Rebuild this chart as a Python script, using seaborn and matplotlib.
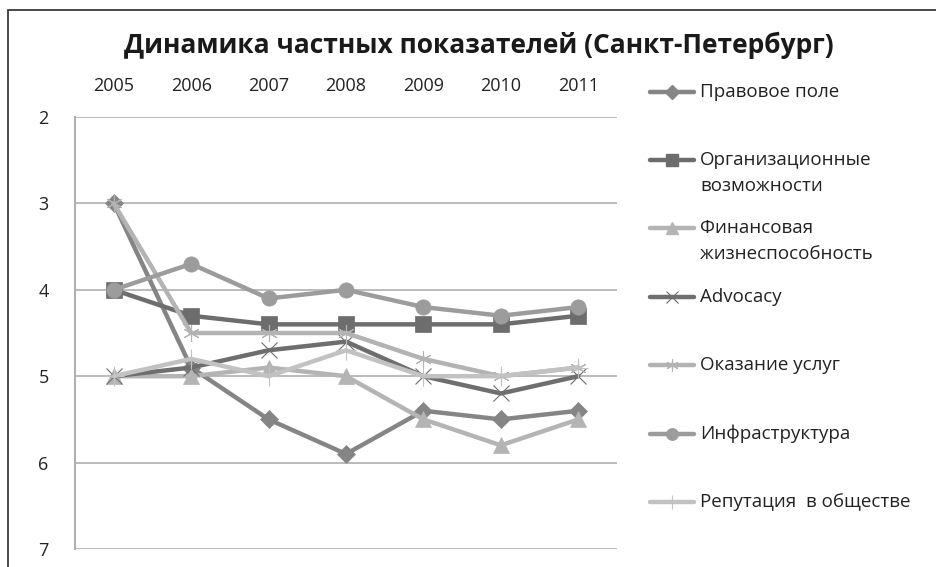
import matplotlib
matplotlib.use("Agg")
import matplotlib.pyplot as plt
from matplotlib.lines import Line2D
from matplotlib.patches import Rectangle
import pandas as pd
import seaborn as sns

# данные
years = ["2005", "2006", "2007", "2008", "2009", "2010", "2011"]
pravovoe = [3.0, 4.9, 5.5, 5.9, 5.4, 5.5, 5.4]
organiz = [4.0, 4.3, 4.4, 4.4, 4.4, 4.4, 4.3]
finans = [5.0, 5.0, 4.9, 5.0, 5.5, 5.8, 5.5]
advocacy = [5.0, 4.9, 4.7, 4.6, 5.0, 5.2, 5.0]
uslugi = [3.0, 4.5, 4.5, 4.5, 4.8, 5.0, 4.9]
infra = [4.0, 3.7, 4.1, 4.0, 4.2, 4.3, 4.2]
reput = [5.0, 4.8, 5.0, 4.7, 5.0, 5.0, 4.9]
y_ticks = [2, 3, 4, 5, 6, 7]

series = [
    ("Правовое поле", pravovoe, "#858585", "D", 9, 1.0),
    ("Организационные\nвозможности", organiz, "#6d6d6d", "s", 11, 1.0),
    ("Финансовая\nжизнеспособность", finans, "#b4b4b4", "^", 11, 1.0),
    ("Advocacy", advocacy, "#6e6e6e", "x", 11, 0.8),
    ("Оказание услуг", uslugi, "#b3b3b3", (6, 2, 0), 12, 0.8),
    ("Инфраструктура", infra, "#9c9c9c", "o", 11, 1.0),
    ("Репутация  в обществе", reput, "#c2c2c2", "+", 14, 0.8),
]

sns.set_style("white")
plt.rcParams['font.family'] = ['Open Sans', 'DejaVu Sans']

fig = plt.figure(figsize=(9.36, 5.67), dpi=100)
ax = fig.add_axes([75 / 936, 1 - 549 / 567, (617 - 75) / 936, (549 - 117) / 567])

for name, vals, col, mk, ms, mew in series:
    df = pd.DataFrame({"year": years, "value": vals})
    sns.lineplot(data=df, x="year", y="value", ax=ax, color=col, linewidth=3.2,
                 marker=mk, markersize=ms, markeredgecolor=col, markerfacecolor=col,
                 markeredgewidth=mew if mk in ("x", "+") or isinstance(mk, tuple) else 0.5,
                 sort=False, legend=False)

ax.set_xlim(-0.5, 6.5)
ax.set_ylim(7, 2)
ax.set_yticks(y_ticks)
ax.set_yticklabels([str(v) for v in y_ticks])
ax.xaxis.tick_top()
ax.set_xlabel("")
ax.set_ylabel("")
ax.tick_params(axis="x", length=0, pad=16, labelsize=13, colors="#222222")
ax.tick_params(axis="y", length=0, pad=19, labelsize=13, colors="#222222")
for y in y_ticks:
    ax.axhline(y, color="#b5b5b5", linewidth=1.3, zorder=0)
for s in ["top", "right", "bottom"]:
    ax.spines[s].set_visible(False)
ax.spines["left"].set_color("#b0b0b0")
ax.spines["left"].set_linewidth(1.5)

fig.text(479 / 936, 1 - 45 / 567, "Динамика частных показателей (Санкт-Петербург)",
         ha="center", va="center", fontsize=19, fontweight="bold", color="#1a1a1a")

# легенда вручную
leg_y = [92, 160, 228, 297, 365, 434, 502]
for (name, vals, col, mk, ms, mew), yy in zip(series, leg_y):
    yf = 1 - yy / 567
    fig.add_artist(Line2D([650 / 936, 694 / 936], [yf, yf], transform=fig.transFigure,
                          color=col, linewidth=3.2))
    fig.add_artist(Line2D([672 / 936], [yf], transform=fig.transFigure, color=col,
                          marker=mk, markersize=ms * 0.75, markeredgecolor=col,
                          markerfacecolor=col, markeredgewidth=mew, linestyle="none"))
    for i, line in enumerate(name.split("\n")):
        fig.text(700 / 936, 1 - (yy + i * 26) / 567, line, ha="left", va="center",
                 fontsize=13.5, color="#222222")

fig.add_artist(Rectangle((8 / 936, -0.1), 1.2, 1 - 10 / 567 + 0.1, transform=fig.transFigure,
                         fill=False, edgecolor="#3a3a3a", linewidth=1.3))

plt.savefig("out.png", dpi=100)
